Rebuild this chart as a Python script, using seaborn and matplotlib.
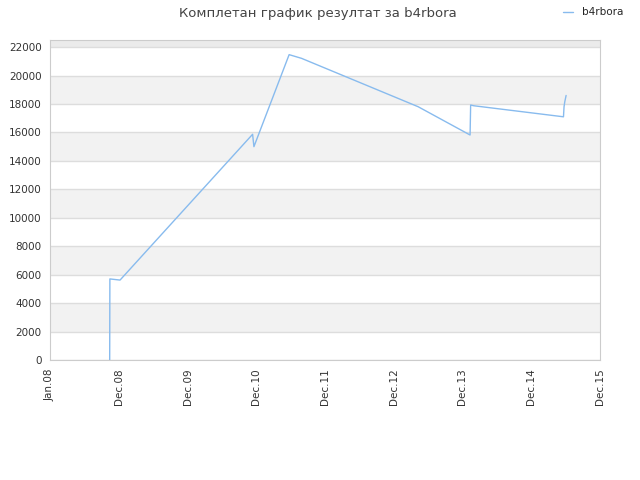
import numpy as np
import pandas as pd
import seaborn as sns
import matplotlib
matplotlib.use("Agg")
import matplotlib.pyplot as plt
import matplotlib.dates as mdates

player = "b4rbora"
title = "Комплетан график резултат за b4rbora"

dates = ["2008-11-13", "2008-11-14", "2009-01-07", "2010-12-12", "2010-12-19",
         "2011-06-24", "2011-08-29", "2013-05-09", "2014-02-09", "2014-02-12",
         "2014-02-27", "2015-06-20", "2015-06-23", "2015-06-27", "2015-07-04"]
scores = [0, 5700, 5620, 15870, 15000,
          21470, 21210, 17810, 15820, 17930,
          17880, 17100, 17800, 18160, 18600]

df = pd.DataFrame({"date": pd.to_datetime(dates), "score": scores, "player": player})

sns.set_style("white")
plt.rcParams["font.family"] = ["DejaVu Sans"]

fig = plt.figure(figsize=(6.4, 4.8), dpi=100)
ax = fig.add_axes([50 / 640, 120 / 480, 550 / 640, 320 / 480])

# alternating bands
for lo in range(2000, 22001, 4000):
    ax.axhspan(lo, lo + 2000, color="#f2f2f2", zorder=0, lw=0)
ax.axhspan(22000, 22500, color="#ebebeb", zorder=0, lw=0)

sns.lineplot(data=df, x="date", y="score", hue="player", palette=["#88bbee"],
             linewidth=1, ax=ax, legend=True)

start = mdates.date2num(pd.Timestamp("2008-01-01"))
end = mdates.date2num(pd.Timestamp("2015-12-31"))
ax.set_xlim(start, end)
ax.set_xticks(np.linspace(start, end, 9))
ax.xaxis.set_major_formatter(mdates.DateFormatter("%b.%y"))
ax.set_ylim(0, 22500)
ax.set_yticks(range(0, 22001, 2000))
ax.yaxis.grid(True, color="#dddddd", linewidth=1)
ax.set_axisbelow(True)
ax.tick_params(axis="both", length=0, labelsize=7.5, colors="#333333", pad=6)
plt.setp(ax.get_xticklabels(), rotation=90)
for s in ax.spines.values():
    s.set_color("#cccccc")
ax.set_xlabel("")
ax.set_ylabel("")

fig.suptitle(title, x=0.497, y=0.985, fontsize=9.5, color="#444444")
handles, labels = ax.get_legend_handles_labels()
ax.get_legend().remove()
fig.legend(handles, labels, loc="upper right", bbox_to_anchor=(0.988, 1.004),
           frameon=False, fontsize=7.5, handlelength=1.0, handletextpad=0.8)
fig.savefig("out.png", dpi=100)
